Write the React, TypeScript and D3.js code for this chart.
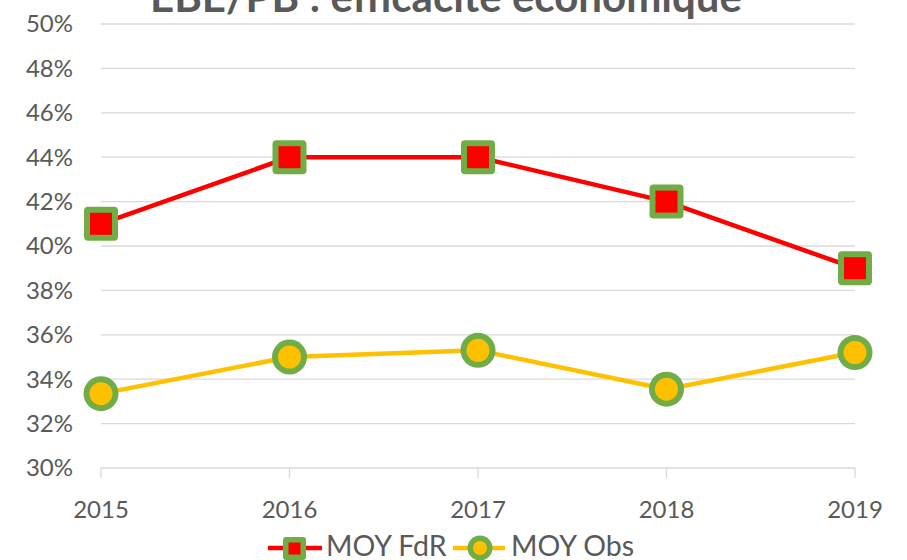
import React from "react";
import * as d3 from "d3";

const years = ["2015", "2016", "2017", "2018", "2019"];
const fdr = [41, 44, 44, 42, 39];
const obs = [33.35, 35.0, 35.3, 33.55, 35.2];
const yTicks = [30, 32, 34, 36, 38, 40, 42, 44, 46, 48, 50];
const title = "EBE/PB : efficacité économique";
const seriesNames = ["MOY FdR", "MOY Obs"];

const W = 907, H = 560;
const FONT = "Lato, 'Open Sans', sans-serif";
const GRAY = "#595959";
const GREEN = "#70AD47";
const RED = "#FF0000";
const YELLOW = "#FFC000";

export default function App() {
  const x = d3.scalePoint<string>().domain(years).range([101, 855]);
  const y = d3.scaleLinear().domain([30, 50]).range([468, 24]);
  const line = d3.line<number>().x((_, i) => x(years[i])!).y((d) => y(d));

  const square = (cx: number, cy: number, k: number) => (
    <g key={k}>
      <rect x={cx - 17} y={cy - 17} width={34} height={34} rx={4} fill={GREEN} />
      <rect x={cx - 11} y={cy - 11} width={22} height={22} fill={RED} />
    </g>
  );
  const circle = (cx: number, cy: number, k: number) => (
    <g key={k}>
      <circle cx={cx} cy={cy} r={17.5} fill={GREEN} />
      <circle cx={cx} cy={cy} r={11.5} fill={YELLOW} />
    </g>
  );

  return (
    <svg width={W} height={H} style={{ position: "absolute", left: 0, top: 0 }} fontFamily={FONT}>
      <rect width={W} height={H} fill="#fff" />
      <text x={446} y={12} textAnchor="middle" fontSize={42} fontWeight="bold" fill={GRAY}>{title}</text>
      {yTicks.map((t) => (
        <g key={t}>
          <line x1={101} x2={855} y1={y(t)} y2={y(t)} stroke="#D9D9D9" strokeWidth={1.3} />
          <text x={73} y={y(t)} dy="0.35em" textAnchor="end" fontSize={24} fill={GRAY}>{t}%</text>
        </g>
      ))}
      {years.map((yr) => (
        <g key={yr}>
          <line x1={x(yr)} x2={x(yr)} y1={468} y2={478} stroke="#D9D9D9" strokeWidth={1.3} />
          <text x={x(yr)} y={510} dy="0.35em" textAnchor="middle" fontSize={24} fill={GRAY}>{yr}</text>
        </g>
      ))}
      <path d={line(obs)!} fill="none" stroke={YELLOW} strokeWidth={4.5} strokeLinejoin="round" />
      <path d={line(fdr)!} fill="none" stroke={RED} strokeWidth={4.5} strokeLinejoin="round" />
      {obs.map((v, i) => circle(x(years[i])!, y(v), i))}
      {fdr.map((v, i) => square(x(years[i])!, y(v), i))}
      <g>
        <line x1={268} x2={322} y1={548} y2={548} stroke={RED} strokeWidth={4.5} />
        <rect x={283} y={537} width={23} height={23} rx={3} fill={GREEN} />
        <rect x={288.5} y={542.5} width={12} height={12} fill={RED} />
        <text x={326} y={556} fontSize={28.5} fill={GRAY}>{seriesNames[0]}</text>
        <line x1={453} x2={505} y1={548} y2={548} stroke={YELLOW} strokeWidth={4.5} />
        <circle cx={480} cy={548} r={12.5} fill={GREEN} />
        <circle cx={480} cy={548} r={7} fill={YELLOW} />
        <text x={511} y={556} fontSize={28.5} fill={GRAY}>{seriesNames[1]}</text>
      </g>
    </svg>
  );
}
